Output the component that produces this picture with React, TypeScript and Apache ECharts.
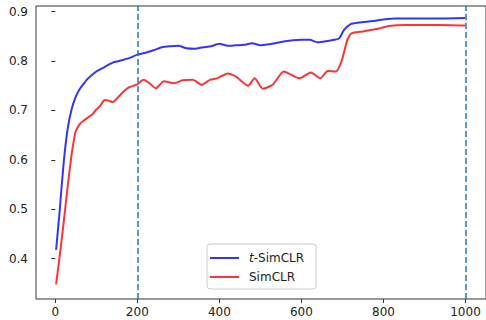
import React, { useEffect, useRef } from "react";
import * as echarts from "echarts";

const xTicks = [0, 200, 400, 600, 800, 1000];
const yTicks = [0.4, 0.5, 0.6, 0.7, 0.8, 0.9];
const markEpochs = [200, 1000];

const tEpochs = [2, 10, 20, 30, 40, 50, 60, 70, 80, 100, 120, 140, 160, 180, 200, 220, 240, 260, 280, 300, 320, 340, 360, 380, 400, 420, 440, 460, 480, 500, 520, 540, 560, 580, 600, 620, 640, 660, 680, 692, 704, 720, 740, 773, 800, 830, 880, 940, 999];
const tSimCLR = [0.418, 0.49, 0.59, 0.662, 0.703, 0.728, 0.744, 0.755, 0.765, 0.779, 0.788, 0.797, 0.801, 0.806, 0.813, 0.817, 0.822, 0.828, 0.83, 0.831, 0.826, 0.825, 0.828, 0.83, 0.835, 0.831, 0.832, 0.833, 0.836, 0.832, 0.834, 0.837, 0.84, 0.842, 0.843, 0.843, 0.838, 0.84, 0.843, 0.846, 0.863, 0.875, 0.878, 0.881, 0.884, 0.886, 0.886, 0.886, 0.887];

const sEpochs = [2, 10, 20, 30, 40, 46, 50, 60, 70, 80, 90, 100, 110, 120, 130, 140, 150, 160, 170, 180, 200, 215, 230, 245, 265, 290, 310, 335, 357, 377, 395, 420, 440, 450, 470, 486, 506, 530, 557, 595, 623, 646, 664, 684, 698, 712, 722, 750, 789, 813, 854, 934, 999];
const simCLR = [0.348, 0.4, 0.47, 0.545, 0.612, 0.643, 0.658, 0.673, 0.68, 0.686, 0.692, 0.702, 0.71, 0.721, 0.72, 0.717, 0.724, 0.733, 0.741, 0.747, 0.753, 0.762, 0.755, 0.745, 0.759, 0.755, 0.761, 0.762, 0.752, 0.762, 0.765, 0.775, 0.769, 0.762, 0.75, 0.765, 0.744, 0.752, 0.779, 0.765, 0.777, 0.765, 0.78, 0.779, 0.8, 0.843, 0.856, 0.86, 0.866, 0.871, 0.873, 0.873, 0.872];

const FONT = "DejaVu Sans";
const LINE_ICON = "path://M0,0h29v2h-29z";

export default function App() {
  const ref = useRef<HTMLDivElement>(null);
  useEffect(() => {
    document.body.style.margin = "0";
    const chart = echarts.init(ref.current!, null, { renderer: "svg" });
    const axisText = { color: "#222", fontFamily: FONT, fontSize: 12 };
    chart.setOption({
      animation: false,
      grid: {
        left: 36,
        top: 6,
        width: 451,
        height: 293,
        show: true,
        borderColor: "#333",
        borderWidth: 1,
      },
      xAxis: {
        type: "value",
        min: -47,
        max: 1050,
        splitLine: { show: false },
        axisLine: { show: false },
        axisTick: { show: true, length: 4, lineStyle: { color: "#333" }, customValues: xTicks },
        axisLabel: { ...axisText, margin: 7, customValues: xTicks, formatter: (v: number) => String(v) },
      },
      yAxis: {
        type: "value",
        min: 0.3184,
        max: 0.9115,
        splitLine: { show: false },
        axisLine: { show: false },
        axisTick: { show: true, length: 4, lineStyle: { color: "#333" }, customValues: yTicks },
        axisLabel: { ...axisText, margin: 8, customValues: yTicks, formatter: (v: number) => v.toFixed(1) },
      },
      legend: {
        orient: "vertical",
        left: 207,
        top: 244,
        backgroundColor: "#fff",
        borderColor: "#ccc",
        borderWidth: 1,
        borderRadius: 3,
        padding: [8, 12, 6, 3],
        itemWidth: 29,
        itemHeight: 14,
        itemGap: 7,
        icon: LINE_ICON,
        textStyle: {
          color: "#222",
          fontFamily: FONT,
          fontSize: 12,
          rich: {
            i: { fontStyle: "italic", fontFamily: FONT, fontSize: 12, color: "#222", padding: [0, 0, 0, 5] },
            n: { fontFamily: FONT, fontSize: 12, color: "#222" },
            p: { fontFamily: FONT, fontSize: 12, color: "#222", padding: [0, 0, 0, 5] },
          },
        },
        formatter: (name: string) => (name === "t-SimCLR" ? "{i|t}{n|-SimCLR}" : "{p|" + name + "}"),
        data: ["t-SimCLR", "SimCLR"],
      },
      series: [
        {
          name: "t-SimCLR",
          type: "line",
          symbol: "none",
          smooth: 0.2,
          data: tEpochs.map((e, i) => [e, tSimCLR[i]]),
          lineStyle: { color: "#0000ff", width: 2, opacity: 0.8 },
          itemStyle: { color: "rgba(0,0,255,0.8)" },
          z: 2,
        },
        {
          name: "SimCLR",
          type: "line",
          symbol: "none",
          smooth: 0.2,
          data: sEpochs.map((e, i) => [e, simCLR[i]]),
          lineStyle: { color: "#ff0000", width: 2, opacity: 0.8 },
          itemStyle: { color: "rgba(255,0,0,0.8)" },
          z: 3,
          markLine: {
            silent: true,
            symbol: "none",
            label: { show: false },
            lineStyle: { color: "#1f77b4", type: [6, 3], width: 2, opacity: 0.75 },
            data: markEpochs.map((e) => ({ xAxis: e })),
            z: 5,
          },
        },
      ],
    });
    return () => chart.dispose();
  }, []);
  return <div ref={ref} style={{ width: 486, height: 320 }} />;
}
